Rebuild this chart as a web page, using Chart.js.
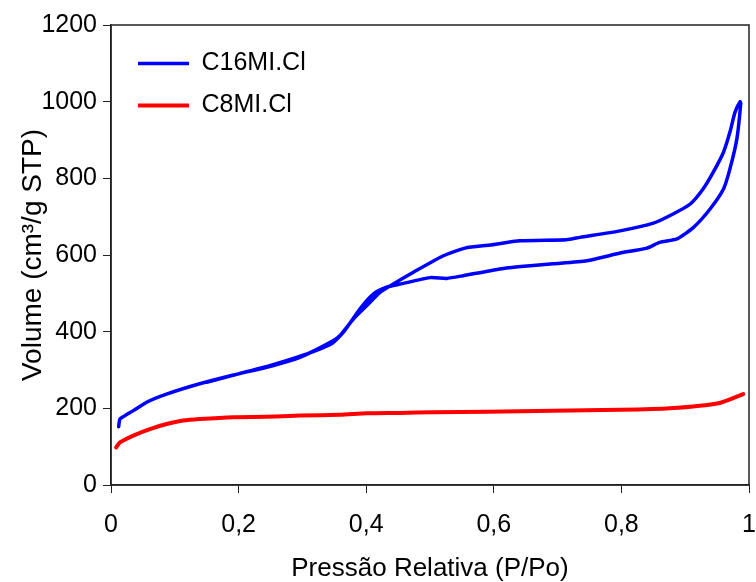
<!DOCTYPE html>
<html>
<head>
<meta charset="utf-8">
<script src="https://cdn.jsdelivr.net/npm/chart.js@4/dist/chart.umd.min.js"></script>
<style>
  body { margin: 0; background: #fff; }
  #chart { display: block; }
</style>
</head>
<body>
<canvas id="chart" width="756" height="582"></canvas>
<script>
// C16MI.Cl isotherm, adsorption branch (P/Po rising)
const c16AdsP = [0.012, 0.014, 0.022, 0.035, 0.056, 0.087, 0.139, 0.192, 0.244, 0.296, 0.348, 0.359, 0.380, 0.401, 0.422, 0.442, 0.474, 0.521, 0.555, 0.594, 0.641, 0.714, 0.735, 0.798, 0.850, 0.881, 0.908, 0.928, 0.944, 0.960, 0.970, 0.978, 0.986];
const c16AdsV = [152, 172, 181, 194, 216, 237, 264, 287, 307, 333, 376, 390, 433, 468, 503, 524, 555, 598, 618, 626, 637, 640, 646, 663, 683, 707, 733, 772, 816, 868, 920, 972, 1000];
// desorption branch (P/Po falling)
const c16DesP = [0.987, 0.981, 0.970, 0.960, 0.939, 0.913, 0.887, 0.860, 0.840, 0.798, 0.746, 0.693, 0.657, 0.615, 0.552, 0.526, 0.500, 0.453, 0.432, 0.411, 0.390, 0.365, 0.345, 0.300, 0.250, 0.200, 0.150];
const c16DesV = [995, 903, 824, 772, 720, 672, 642, 633, 618, 605, 585, 577, 572, 565, 546, 539, 541, 524, 516, 498, 459, 400, 368, 338, 312, 290, 268];

// C8MI.Cl isotherm
const c8P = [0.008, 0.014, 0.035, 0.061, 0.087, 0.113, 0.139, 0.192, 0.244, 0.296, 0.359, 0.401, 0.453, 0.505, 0.589, 0.693, 0.798, 0.876, 0.954, 0.991];
const c8V = [98, 111, 129, 146, 159, 168, 172, 177, 178, 181, 183, 187, 188, 190, 191, 194, 196, 200, 214, 237];

const seriesNames = ['C16MI.Cl', 'C8MI.Cl'];
const xTickLabels = ['0', '0,2', '0,4', '0,6', '0,8', '1'];
const yTickLabels = ['0', '200', '400', '600', '800', '1000', '1200'];

function toPoints(xs, ys) {
    return xs.map((x, i) => ({ x: x, y: ys[i] }));
}

const fontFamily = '"Liberation Sans", Arial, sans-serif';

// box around the plot area (Excel style)
const plotBorder = {
    id: 'plotBorder',
    afterDatasetsDraw(chart) {
        const a = chart.chartArea;
        const ctx = chart.ctx;
        ctx.save();
        ctx.strokeStyle = '#222';
        ctx.lineWidth = 1.5;
        ctx.strokeRect(a.left, a.top, a.right - a.left, a.bottom - a.top);
        ctx.restore();
    }
};

// nudge the in-plot legend to where it sits in the original
const legendNudge = {
    id: 'legendNudge',
    afterLayout(chart) {
        if (chart.legend) {
            chart.legend.left += 10;
            chart.legend.top += 34;
        }
    }
};

const ctx = document.getElementById('chart').getContext('2d');
new Chart(ctx, {
    type: 'scatter',
    data: {
        datasets: [{
            label: seriesNames[0],
            data: toPoints(c16AdsP.concat(c16DesP), c16AdsV.concat(c16DesV)),
            showLine: true,
            borderColor: '#0000ff',
            backgroundColor: '#0000ff',
            borderWidth: 3.5,
            pointRadius: 0,
            tension: 0.2,
            borderJoinStyle: 'round',
            borderCapStyle: 'round'
        }, {
            label: seriesNames[1],
            data: toPoints(c8P, c8V),
            showLine: true,
            borderColor: '#ff0000',
            backgroundColor: '#ff0000',
            borderWidth: 4,
            pointRadius: 0,
            tension: 0.2,
            borderJoinStyle: 'round',
            borderCapStyle: 'round'
        }]
    },
    options: {
        responsive: false,
        animation: false,
        layout: { padding: { left: 0, right: 7, top: 25, bottom: 0 } },
        plugins: {
            tooltip: { enabled: false },
            legend: {
                position: 'chartArea',
                align: 'start',
                labels: {
                    usePointStyle: true,
                    pointStyle: 'line',
                    pointStyleWidth: 51,
                    boxHeight: 3,
                    padding: 17,
                    color: '#000',
                    font: { family: fontFamily, size: 25 }
                }
            }
        },
        scales: {
            x: {
                type: 'linear',
                min: 0,
                max: 1,
                afterFit: s => {
                    s.height = 97;
                    s.paddingLeft = 0;
                    s.paddingRight = 0;
                },
                ticks: {
                    stepSize: 0.2,
                    color: '#000',
                    padding: 17,
                    font: { family: fontFamily, size: 25 },
                    callback: (v, i) => xTickLabels[i]
                },
                grid: { drawOnChartArea: false, drawTicks: true, tickLength: 8, color: '#222' },
                border: { display: true, color: '#222', width: 1.5 },
                title: {
                    display: true,
                    text: 'Pressão Relativa (P/Po)',
                    color: '#000',
                    font: { family: fontFamily, size: 26, lineHeight: 1.0 },
                    padding: { top: 0, bottom: 0 }
                }
            },
            y: {
                min: 0,
                max: 1200,
                afterFit: s => { s.width = 111; },
                ticks: {
                    stepSize: 200,
                    color: '#000',
                    padding: 6,
                    font: { family: fontFamily, size: 25 },
                    callback: (v, i) => yTickLabels[i]
                },
                grid: { drawOnChartArea: false, drawTicks: true, tickLength: 8, color: '#222' },
                border: { display: true, color: '#222', width: 1.5 },
                title: {
                    display: true,
                    text: 'Volume (cm³/g STP)',
                    color: '#000',
                    font: { family: fontFamily, size: 28 },
                    padding: { top: 16, bottom: 0 }
                }
            }
        }
    },
    plugins: [plotBorder, legendNudge]
});
</script>
</body>
</html>
